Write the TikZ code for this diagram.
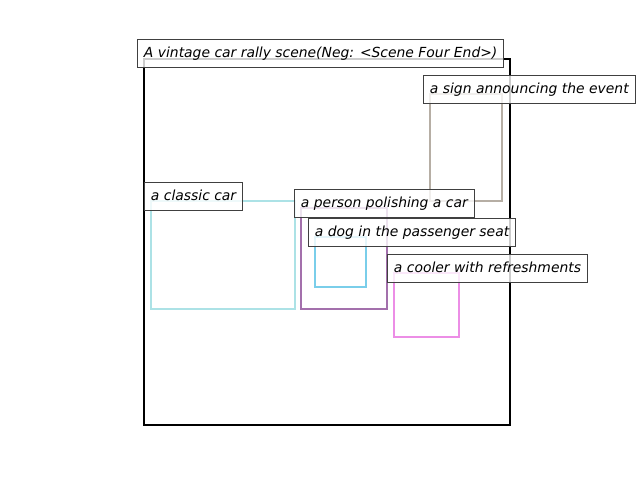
\documentclass[tikz,border=0pt]{standalone}
\usepackage{fontspec}
\newfontfamily\tagfont{DejaVu Sans}
\usetikzlibrary{positioning}
\tikzset{
    tag/.style={draw=black!75, line width=0.9pt, fill=white, fill opacity=0.8,
        text opacity=1, anchor=south west, inner xsep=6.5pt, inner ysep=0pt,
        text height=10.6pt, text depth=3.2pt, minimum height=28pt,
        font=\tagfont\itshape\fontsize{13.9}{16}\selectfont},
    region/.style={line width=2pt}
}
\definecolor{carcol}{RGB}{172,226,230}
\definecolor{personcol}{RGB}{163,112,172}
\definecolor{signcol}{RGB}{182,174,164}
\definecolor{dogcol}{RGB}{122,206,234}
\definecolor{coolercol}{RGB}{236,142,230}
\begin{document}
\begin{tikzpicture}[x=1pt, y=-1pt]
    \useasboundingbox (0, 0) rectangle (640, 480);
    % scene frame
    \draw[line width=2pt] (144, 59) rectangle (510, 425);
    % regions
    \draw[region, signcol] (430, 94) rectangle (502, 201);
    \draw[region, carcol] (151, 201) rectangle (295, 309);
    \draw[region, personcol] (301, 208) rectangle (387, 309);
    \draw[region, dogcol] (315, 237) rectangle (366, 287);
    \draw[region, coolercol] (394, 273) rectangle (459, 337);
    % labels
    \node[tag] (scene) at (137, 68) {A vintage car rally scene(Neg: <Scene Four End>)};
    \node[tag] (sign) at (423, 104) {a sign announcing the event};
    \node[tag] (car) at (144, 211) {a classic car};
    \node[tag] (person) at (294, 218) {a person polishing a car};
    \node[tag] (dog) at (308, 247) {a dog in the passenger seat};
    \node[tag] (cooler) at (387, 283) {a cooler with refreshments};
\end{tikzpicture}
\end{document}
